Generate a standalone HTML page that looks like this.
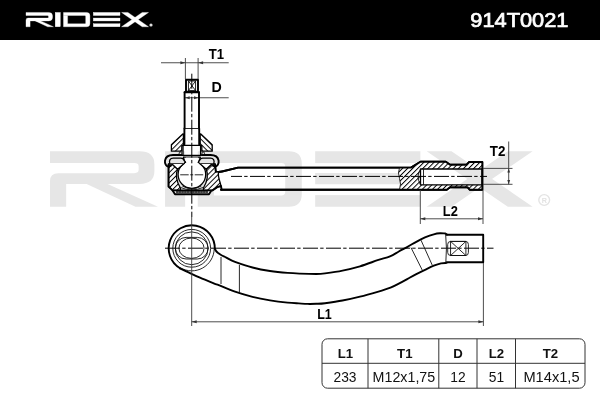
<!DOCTYPE html>
<html>
<head>
<meta charset="utf-8">
<style>
html,body{margin:0;padding:0;background:#fff;}
body{width:600px;height:400px;overflow:hidden;position:relative;font-family:"Liberation Sans",sans-serif;}
svg{position:absolute;left:0;top:0;display:block;will-change:transform}
text{font-family:"Liberation Sans",sans-serif;}
.b{font-weight:bold}
.tk{stroke:#000;stroke-width:1.9;stroke-linejoin:round;stroke-linecap:round}
.md{stroke:#000;stroke-width:1.3;stroke-linejoin:round;stroke-linecap:round}
.tn{stroke:#111;stroke-width:0.9}
.dm{stroke:#3a3a3a;stroke-width:0.9}
.cl{stroke:#000;stroke-width:1;stroke-dasharray:15 2.2 3.4 2.4}
.ar{fill:#333;stroke:none}
</style>
</head>
<body>
<svg width="600" height="400" viewBox="0 0 600 400">
<defs>
  <g id="logo">
    <path d="M0,0 H22.7 Q26.5,0 26.5,3.4 V5.05 Q26.5,8.45 22.7,8.45 H4.1 V14.3 H0 V7.7 Q0,5.65 2.1,5.65 H21.4 Q22.5,5.65 22.5,4.8 V3.9 Q22.5,3.05 21.4,3.05 H0 Z"/>
    <path d="M9.3,8.45 H14.6 L27.4,14.3 H21.7 Z"/>
    <rect x="29.2" y="0" width="5.1" height="14.3"/>
    <path d="M37.5,0 H60.6 Q63.9,0 63.9,3.2 V11.1 Q63.9,14.3 60.6,14.3 H37.5 V3.4 H41.6 V11.4 H58.7 Q59.7,11.4 59.7,10.5 V3.95 Q59.7,3.05 58.7,3.05 H37.5 Z"/>
    <rect x="67.3" y="0" width="26.7" height="3.05"/>
    <rect x="67.3" y="5.6" width="26.7" height="2.9"/>
    <rect x="67.3" y="11.3" width="26.7" height="3"/>
    <path d="M95.6,0 H101.9 L122.5,14.3 H116.2 Z"/>
    <path d="M116.2,0 H122.5 L101.9,14.3 H95.6 Z"/>
  </g>
  <pattern id="hatchA" width="3.6" height="3.6" patternUnits="userSpaceOnUse" patternTransform="rotate(45)">
    <rect width="3.6" height="3.6" fill="#fff"/>
    <line x1="0" y1="0" x2="0" y2="3.6" stroke="#000" stroke-width="1.95"/>
  </pattern>
  <pattern id="hatchB" width="3.6" height="3.6" patternUnits="userSpaceOnUse" patternTransform="rotate(-45)">
    <rect width="3.6" height="3.6" fill="#fff"/>
    <line x1="0" y1="0" x2="0" y2="3.6" stroke="#000" stroke-width="1.95"/>
  </pattern>
</defs>

<!-- header -->
<rect x="0" y="0" width="600" height="40" fill="#000"/>
<use href="#logo" transform="translate(26,12.45)" fill="#fff" stroke="#fff" stroke-width="0.35"/>
<circle cx="151" cy="25" r="1.6" fill="#ddd"/>
<text x="470.3" y="26.6" font-size="19.6" fill="#fff" stroke="#fff" stroke-width="0.7" textLength="98.2" lengthAdjust="spacingAndGlyphs">914T0021</text>

<!-- watermark -->
<g fill="#e6e6e6">
<use href="#logo" transform="translate(50,151.25) scale(3.94,3.88)"/>
</g>
<circle cx="544.2" cy="200" r="5.4" fill="none" stroke="#e4e4e4" stroke-width="1.4"/>
<text x="544.3" y="202.6" font-size="7.2" text-anchor="middle" fill="#e2e2e2" class="b">R</text>

<g fill="none">
<!-- ================= TOP VIEW ================= -->
<!-- rod -->
<path class="tk" d="M215.8,171.6 Q218.5,172.3 222,171.5 L238,167.6 H411 L420.5,161.8 H445.8 L450,164.7 H466.7 L469,162 H482.3 V189.7 H469.7 L467.5,187.2 H450 L446.7,189.7 H221"/>
<!-- rod section hatch -->
<path d="M399.5,167.6 H411 L420.5,161.8 H445.8 L450,164.7 H466.7 L469,162 H482.3 V169 H420.5 V184.8 H482.3 V189.7 H469.7 L467.5,187.2 H450 L446.7,189.7 H399.5 Q401.5,184 399.5,178.5 Q397.5,173 399.5,167.6 Z" fill="url(#hatchA)" stroke="none"/>
<path class="tk" d="M215.8,171.6 Q218.5,172.3 222,171.5 L238,167.6 H411 L420.5,161.8 H445.8 L450,164.7 H466.7 L469,162 H482.3 V189.7 H469.7 L467.5,187.2 H450 L446.7,189.7 H221"/>
<path class="md" d="M482.3,169 H420.5 V184.8 H482.3"/>
<path class="tn" d="M399.5,167.6 Q397.5,173 399.5,178.5 Q401.5,184 399.5,189.7"/>
<path class="tn" d="M423.5,169 V184.8"/>
<path class="tn" d="M420.5,169 Q415.5,176.5 420.5,184.8"/>
<line class="cl" x1="231" y1="176.4" x2="487" y2="176.4" stroke-dashoffset="4"/>

<!-- T2 dim -->
<line class="dm" x1="483" y1="168.4" x2="512.5" y2="168.4"/>
<line class="dm" x1="483" y1="184.3" x2="512.5" y2="184.3"/>
<line class="dm" x1="508.7" y1="141.5" x2="508.7" y2="184.3"/>
<path class="ar" d="M508.7,168.4 l-1.4,4.2 h2.8 Z"/>
<path class="ar" d="M508.7,184.3 l-1.4,-4.2 h2.8 Z"/>
<text x="489.8" y="156.2" class="b" fill="#000" font-size="14.2" textLength="15.6" lengthAdjust="spacingAndGlyphs">T2</text>

<!-- L2 dim -->
<line class="dm" x1="420.3" y1="190" x2="420.3" y2="224"/>
<line class="dm" x1="483" y1="190" x2="483" y2="224"/>
<line class="dm" x1="420.3" y1="218.8" x2="483" y2="218.8"/>
<path class="ar" d="M420.3,218.8 l5,-1.5 v3 Z"/>
<path class="ar" d="M483,218.8 l-5,-1.5 v3 Z"/>
<text x="442.8" y="215.9" class="b" fill="#000" font-size="14.2" textLength="15" lengthAdjust="spacingAndGlyphs">L2</text>

<!-- T1 dim -->
<line class="dm" x1="185.4" y1="58" x2="185.4" y2="79"/>
<line class="dm" x1="198.1" y1="58" x2="198.1" y2="79"/>
<line class="dm" x1="161" y1="62.75" x2="228.7" y2="62.75"/>
<path class="ar" d="M185.4,62.75 l-5,-1.5 v3 Z"/>
<path class="ar" d="M198.1,62.75 l5,-1.5 v3 Z"/>
<text x="208.8" y="58.5" class="b" fill="#000" font-size="14.2" textLength="15.3" lengthAdjust="spacingAndGlyphs">T1</text>

<!-- D dim -->
<line class="dm" x1="184.5" y1="97.75" x2="228.7" y2="97.75"/>
<path class="ar" d="M185.2,97.75 l4.5,-1.5 v3 Z"/>
<path class="ar" d="M198.5,97.75 l-4.5,-1.5 v3 Z"/>
<text x="211.4" y="92.1" class="b" fill="#000" font-size="14.2">D</text>


<!-- hex head -->
<rect x="186" y="79.7" width="12" height="12" class="tk" stroke-width="2.2"/>
<rect x="188.4" y="81" width="7.2" height="9.6" class="tn" stroke="#000" stroke-width="0.9"/>
<path class="tn" stroke="#000" stroke-width="0.9" d="M188.4,81 L195.6,90.6 M195.6,81 L188.4,90.6"/>
<!-- stud shaft -->
<path class="tk" d="M184.6,92.2 V128.5 M199,92.2 V128.5" stroke-width="2.7" stroke-linecap="butt"/>
<path class="tk" d="M184.6,92.3 H199" stroke-width="1.4" stroke-linecap="butt"/>
<path class="tk" d="M184.4,128.5 V144.6 M199.2,128.5 V144.6" stroke-width="2"/>
<line class="tn" x1="184.3" y1="128.5" x2="199.4" y2="128.5"/>

<!-- cone washer -->
<path d="M182.8,134 L171.4,144.8 V151.2 H181.8 V145.6 H183.4 V134 Z" fill="url(#hatchA)" class="md"/>
<path d="M200.8,134 L212.2,144.8 V151.2 H201.8 V145.6 H200.2 V134 Z" fill="url(#hatchB)" class="md"/>
<!-- shoulder block -->
<path class="md" d="M183,145.4 H200.6 M183,145.4 V155.4 M200.6,145.4 V155.4 M182.5,155.4 H201 M183.5,157.2 H200.2"/>

<!-- housing hatched -->
<path d="M177.6,169 L171.4,163.6 L168.6,164 V186.6 L172.6,190.4 H180.4 V188 Q174.2,177.5 177.6,169 Z" fill="url(#hatchA)" class="md"/>
<path d="M206.2,169 L212.4,163.6 L215.2,164 L215.6,171.6 L218.4,172.2 Q218,176 219.4,180.3 Q220.4,183.4 221,186 L217.2,187.2 L212.4,190.4 H203.4 V188 Q209.6,177.5 206.2,169 Z" fill="url(#hatchA)" class="md"/>
<path class="tk" d="M168.5,164.5 V186.6 L172.6,190.4 M215.2,164.5 L215.9,171.9 M212.4,190.4 L217.2,187.2 L221,186 L221.6,189.6" stroke-width="1.9"/>
<!-- bottom cap -->
<path d="M172.6,190.4 L175,194.3 H209 L211.4,190.4 Z" fill="#fff" class="tk" stroke-width="1.8"/>
<path class="md" d="M176.4,192 H207.6" stroke-width="1.7" stroke-dasharray="1.6 1.1"/>
<!-- bearing + ball -->
<path class="tn" d="M180.6,187.5 Q191.8,192.3 203,187.5"/>
<circle cx="191.9" cy="174.5" r="13.8" fill="#fff" class="md" stroke-width="1.6"/>
<path class="tn" d="M182.3,186 Q191.8,191.5 201.3,186" stroke="#555"/>
<!-- neck -->
<rect x="185.8" y="157.6" width="12.2" height="6.4" fill="#fff" stroke="none"/>
<path class="md" d="M183.4,157.4 Q183.9,160.6 185.6,162.4 M200.2,157.4 Q199.7,160.6 198.2,162.4" stroke-width="1.5"/>
<!-- housing lip V -->
<path class="md" d="M171.2,163.3 H184.4 L177.6,169.2 Z M212.6,163.3 H199.4 L206.2,169.2 Z" fill="#fff" stroke-width="1.1"/>
<!-- boot -->
<path d="M169.8,163.3 C168.8,160 170.2,158.2 173.2,158.2 H180.8 C182.8,158.2 183.6,159.2 184.4,161 L183.8,163.3 Z M213.8,163.3 C214.8,160 213.4,158.2 210.4,158.2 H202.8 C200.8,158.2 200,159.2 199.2,161 L199.8,163.3 Z" fill="#e6e6e6" stroke="none"/>
<path class="tk" stroke-width="2.4" d="M169,166.8 C166.2,166.4 164.5,163.6 165,160.6 C165.7,156.6 168.6,155 173,155 H181.8 M214.6,166.8 C217.4,166.4 219.1,163.6 218.6,160.6 C217.9,156.6 215,155 210.6,155 H201.8"/>
<path class="md" stroke-width="1.2" d="M169.8,163.6 C168.8,160 170.2,158.2 173.2,158.2 H180.8 C182.8,158.2 183.6,159.2 184.4,161 M213.8,163.6 C214.8,160 213.4,158.2 210.4,158.2 H202.8 C200.8,158.2 200,159.2 199.2,161"/>
<circle cx="180.4" cy="153.3" r="1.3" class="tn" stroke-width="1"/>
<circle cx="203.2" cy="153.3" r="1.3" class="tn" stroke-width="1"/>
<circle cx="170.4" cy="165.6" r="1.4" fill="#000" stroke="none"/><circle cx="213.4" cy="165.6" r="1.4" fill="#000" stroke="none"/>
<!-- ball cross -->
<line class="tn" x1="180.2" y1="174.8" x2="203.8" y2="174.8" stroke-dasharray="8.5 1.5 3 1.5"/>

<!-- stud centerline -->
<line class="cl" x1="191.8" y1="73.7" x2="191.8" y2="217"/>

<!-- ================= SIDE VIEW ================= -->
<line class="cl" x1="165" y1="248.2" x2="493.5" y2="248.2"/>
<path class="tn" d="M214.2,249 A22.5,22.5 0 0 1 180.4,267.8"/>
<path class="tk" stroke-width="3.1" d="M214.8,248.8 A23.05,23.05 0 1 0 180,268.2"/>
<circle cx="191.7" cy="248.3" r="18.9" class="tn" stroke="#000" stroke-width="1"/>
<circle cx="191.7" cy="248.3" r="16.4" class="tn" stroke="#000" stroke-width="1"/>
<rect x="175.3" y="237.4" width="32.8" height="21.6" rx="10.8" class="tn" stroke="#000" stroke-width="1"/>
<ellipse cx="191.5" cy="248.2" rx="12.6" ry="10.2" class="tn" stroke="#000" stroke-width="1"/>
<!-- arm -->
<path class="tk" stroke-width="2.3" d="M214.9,248.6 C215.1,248.9 215.3,249.9 215.8,250.6 C216.3,251.3 216.9,252.0 217.8,252.8 C218.8,253.6 220.1,254.5 221.5,255.3 C222.9,256.1 224.1,256.5 226.3,257.6 C228.6,258.7 230.6,260.2 235.0,261.9 C239.4,263.5 246.7,266.0 252.5,267.5 C258.3,269.0 264.1,270.1 270.0,271.0 C275.9,271.9 282.6,272.5 287.6,272.9 C292.6,273.3 295.2,273.4 300.0,273.6 C304.8,273.8 312.1,274.0 316.3,274.0 C320.5,274.0 320.6,274.0 325.0,273.4 C329.4,272.8 336.7,271.8 342.5,270.6 C348.3,269.4 354.1,268.0 360.0,266.3 C365.9,264.6 372.6,261.9 377.6,260.2 C382.6,258.5 386.5,257.8 390.0,256.3 C393.5,254.9 395.9,253.1 398.8,251.5 C401.7,249.9 404.6,248.4 407.5,246.8 C410.4,245.2 413.4,243.4 416.3,241.8 C419.2,240.2 422.1,238.7 425.0,237.4 C427.9,236.2 431.3,235.0 433.8,234.3 C436.3,233.6 438.1,233.4 440.0,233.3 C441.9,233.2 444.5,233.5 445.4,233.5 L446.9,234.6"/>
<path class="tk" stroke-width="2.3" d="M446.6,262.9 C445.7,263.0 443.1,262.8 441.0,263.3 C438.9,263.8 436.5,264.6 433.8,265.7 C431.1,266.8 427.9,268.4 425.0,269.8 C422.1,271.2 419.2,272.6 416.3,274.1 C413.4,275.6 410.4,277.3 407.5,278.9 C404.6,280.5 401.6,282.2 398.8,283.6 C396.0,285.1 394.0,286.2 390.5,287.6 C387.0,289.0 382.7,290.3 377.6,291.8 C372.5,293.3 365.9,295.2 360.0,296.6 C354.1,298.1 348.3,299.4 342.5,300.5 C336.7,301.6 329.4,302.6 325.0,303.2 C320.6,303.8 319.2,303.7 316.3,303.8 C313.4,303.9 310.4,304.0 307.5,303.9 C304.6,303.8 302.1,303.6 298.8,303.4 C295.5,303.2 292.4,303.1 287.6,302.6 C282.8,302.1 275.9,301.3 270.0,300.4 C264.1,299.4 258.3,298.3 252.5,296.9 C246.7,295.4 240.8,293.7 235.0,291.7 C229.2,289.7 223.3,287.0 217.5,284.7 C211.7,282.4 204.9,279.8 200.0,277.7 C195.1,275.6 191.3,273.7 188.0,272.1 C184.7,270.5 181.2,268.9 179.9,268.3"/>
<path class="tk" stroke-width="2.4" stroke-linejoin="miter" d="M446.6,234.7 H483.2 V262.2 H446.6"/>
<path class="tn" stroke="#000" d="M445.6,233.6 Q447.2,248 445.8,263"/>
<line class="tn" x1="221" y1="257" x2="221" y2="284"/>
<line class="tn" x1="239.4" y1="265" x2="239.4" y2="292"/>
<line class="tn" x1="411" y1="247.6" x2="422.5" y2="270.6"/>
<line class="tn" x1="421" y1="240.2" x2="432.2" y2="265"/>
<rect x="447.7" y="241.4" width="20.7" height="14.1" rx="3" class="tn" stroke="#000" stroke-width="0.9"/>
<rect x="450.6" y="241.4" width="15.3" height="14.1" class="tn" stroke="#000" stroke-width="0.9"/>
<path class="tn" stroke="#000" stroke-width="0.9" d="M450.6,241.4 L465.9,255.5 M465.9,241.4 L450.6,255.5"/>

<!-- L1 dim -->
<line class="dm" x1="191.7" y1="217" x2="191.7" y2="326"/>
<line class="dm" x1="483.4" y1="263" x2="483.4" y2="326"/>
<line class="dm" x1="191.7" y1="321.8" x2="483.4" y2="321.8"/>
<path class="ar" d="M191.7,321.8 l5,-1.5 v3 Z"/>
<path class="ar" d="M483.4,321.8 l-5,-1.5 v3 Z"/>
<text x="317.2" y="318.6" class="b" fill="#000" font-size="14.2" textLength="14.6" lengthAdjust="spacingAndGlyphs">L1</text>

</g>
<!-- ================= TABLE ================= -->
<rect x="322" y="338.8" width="263" height="49.4" rx="5.5" fill="#fff" stroke="#333" stroke-width="1"/>
<g stroke="#333" stroke-width="1">
<line x1="322" y1="363.3" x2="585" y2="363.3"/>
<line x1="368" y1="338.8" x2="368" y2="388.2"/>
<line x1="438.8" y1="338.8" x2="438.8" y2="388.2"/>
<line x1="477" y1="338.8" x2="477" y2="388.2"/>
<line x1="515.5" y1="338.8" x2="515.5" y2="388.2"/>
</g>
<g class="b" font-size="13.2" text-anchor="middle" fill="#111">
<text x="345.5" y="357.9">L1</text>
<text x="404.8" y="357.9">T1</text>
<text x="458" y="357.9">D</text>
<text x="496.5" y="357.9">L2</text>
<text x="550.5" y="357.9">T2</text>
</g>
<g font-size="13.8" text-anchor="middle" fill="#111">
<text x="345" y="382">233</text>
<text x="372.6" y="382" text-anchor="start" textLength="62.6" lengthAdjust="spacingAndGlyphs">M12x1,75</text>
<text x="458" y="382">12</text>
<text x="496.5" y="382">51</text>
<text x="523.4" y="382" text-anchor="start" textLength="56.2" lengthAdjust="spacingAndGlyphs">M14x1,5</text>
</g>
</svg>
</body>
</html>
